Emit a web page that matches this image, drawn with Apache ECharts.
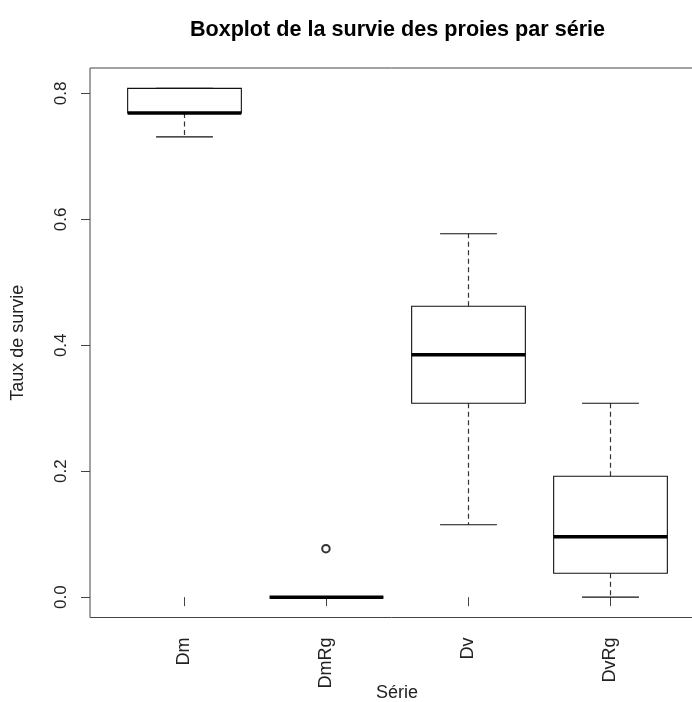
<!DOCTYPE html>
<html>
<head>
<meta charset="utf-8">
<script src="https://cdn.jsdelivr.net/npm/echarts@6/dist/echarts.min.js"></script>
<style>
  html, body { margin: 0; padding: 0; background: #fff; overflow: hidden; }
  #chart { width: 692px; height: 702px; }
</style>
</head>
<body>
<div id="chart"></div>
<script>
// Survival rate of prey, summary statistics per series
const categories  = ['Dm', 'DmRg', 'Dv', 'DvRg'];
const whiskerLow  = [0.731, 0.000, 0.115, 0.000];
const quartile1   = [0.769, 0.000, 0.308, 0.038];
const medians     = [0.769, 0.000, 0.385, 0.096];
const quartile3   = [0.808, 0.000, 0.462, 0.192];
const whiskerHigh = [0.808, 0.000, 0.577, 0.308];
// Points beyond the whiskers
const outlierCategory = ['DmRg'];
const outlierValue    = [0.077];
// Axis ticks
const yTicks = [0, 0.2, 0.4, 0.6, 0.8];

const FONT = 'Liberation Sans, Arial, sans-serif';

// Category i sits at x = i + 1 (1-based positions, as in a classic boxplot)
const boxData = categories.map((c, i) => [
  i + 1, whiskerLow[i], quartile1[i], medians[i], quartile3[i], whiskerHigh[i]
]);
const outlierData = outlierCategory.map((c, k) => [categories.indexOf(c) + 1, outlierValue[k]]);

// Extend the data range by 4% on each side
const dataMin = Math.min(...whiskerLow, ...outlierValue);
const dataMax = Math.max(...whiskerHigh, ...outlierValue);
const pad = (dataMax - dataMin) * 0.04;
const xPad = categories.length * 0.04;

function renderBox(params, api) {
  const x = api.value(0);
  const lo = api.value(1), q1 = api.value(2), md = api.value(3), q3 = api.value(4), hi = api.value(5);
  const halfBox = api.size([0.4, 0])[0];
  const halfCap = api.size([0.2, 0])[0];
  const cx = Math.round(api.coord([x, 0])[0]) + 0.5;
  const yLo = api.coord([x, lo])[1];
  const yQ1 = api.coord([x, q1])[1];
  const yMd = api.coord([x, md])[1];
  const yQ3 = api.coord([x, q3])[1];
  const yHi = api.coord([x, hi])[1];
  const thin = { stroke: '#111', lineWidth: 1.1, fill: null };
  const dashed = { stroke: '#333', lineWidth: 1.2, lineDash: [5, 3.5] };
  const children = [];
  if (yHi !== yQ3) {
    children.push({ type: 'line', shape: { x1: cx, y1: yQ3, x2: cx, y2: yHi }, style: dashed });
  }
  if (yLo !== yQ1) {
    children.push({ type: 'line', shape: { x1: cx, y1: yQ1, x2: cx, y2: yLo }, style: dashed });
  }
  children.push({ type: 'line', shape: { x1: cx - halfCap, y1: yHi, x2: cx + halfCap, y2: yHi }, style: thin });
  children.push({ type: 'line', shape: { x1: cx - halfCap, y1: yLo, x2: cx + halfCap, y2: yLo }, style: thin });
  children.push({ type: 'rect', shape: { x: cx - halfBox, y: yQ3, width: 2 * halfBox, height: yQ1 - yQ3 },
                  style: { stroke: '#111', lineWidth: 1.1, fill: '#fff' } });
  children.push({ type: 'line', shape: { x1: cx - halfBox, y1: yMd, x2: cx + halfBox, y2: yMd },
                  style: { stroke: '#000', lineWidth: 3.5 } });
  return { type: 'group', children };
}

const chart = echarts.init(document.getElementById('chart'), null, { renderer: 'canvas' });
chart.setOption({
  animation: false,
  backgroundColor: '#fff',
  title: {
    text: 'Boxplot de la survie des proies par série',
    left: 392.5,
    top: 14,
    textAlign: 'center',
    textStyle: { fontFamily: FONT, fontWeight: 'bold', fontSize: 21.6, color: '#000' }
  },
  grid: {
    left: 90, top: 68, right: -12, bottom: 84.5,
    outerBoundsMode: 'none',
    containLabel: false,
    show: true, borderColor: '#444', borderWidth: 1, backgroundColor: 'transparent'
  },
  xAxis: {
    type: 'value',
    min: 0.5 - xPad,
    max: categories.length + 0.5 + xPad,
    name: 'Série',
    nameLocation: 'middle',
    nameGap: 67,
    nameMoveOverlap: false,
    nameTextStyle: { fontFamily: FONT, fontSize: 18, color: '#222', verticalAlign: 'top' },
    axisLine: { show: false },
    splitLine: { show: false },
    axisTick: { show: true, length: 9, lineStyle: { color: '#444', width: 1 },
                customValues: categories.map((c, i) => i + 1) },
    axisLabel: {
      rotate: 90, margin: 20, fontFamily: FONT, fontSize: 18, color: '#222',
      customValues: categories.map((c, i) => i + 1),
      formatter: v => categories[Math.round(v) - 1] || ''
    }
  },
  yAxis: {
    type: 'value',
    min: dataMin - pad,
    max: dataMax + pad,
    name: 'Taux de survie',
    nameLocation: 'middle',
    nameGap: 63,
    nameMoveOverlap: false,
    nameTextStyle: { fontFamily: FONT, fontSize: 18, color: '#222' },
    axisLine: { show: false },
    splitLine: { show: false },
    axisTick: { show: true, length: 9, lineStyle: { color: '#444', width: 1 }, customValues: yTicks },
    axisLabel: {
      rotate: 90, margin: 20, fontFamily: FONT, fontSize: 17, color: '#222',
      customValues: yTicks,
      formatter: v => v.toFixed(1)
    }
  },
  series: [
    {
      type: 'custom',
      renderItem: renderBox,
      encode: { x: 0, y: [1, 2, 3, 4, 5] },
      data: boxData,
      clip: false,
      z: 2
    },
    {
      type: 'scatter',
      data: outlierData,
      symbol: 'emptyCircle',
      symbolSize: 7.5,
      itemStyle: { color: '#000', borderColor: '#222', borderWidth: 0.8 },
      z: 3
    }
  ]
});
</script>
</body>
</html>
